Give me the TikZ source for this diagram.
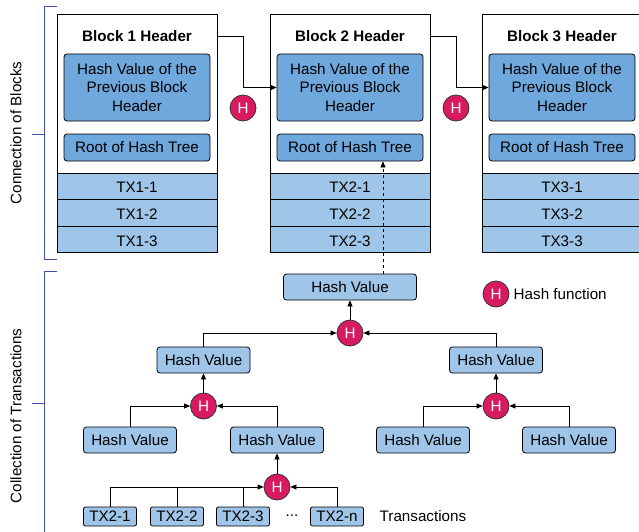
\documentclass[tikz,border=0pt]{standalone}
\usepackage{fontspec}
\setmainfont{Liberation Sans}
\usetikzlibrary{positioning,arrows.meta}
\definecolor{hdrblue}{HTML}{6FA8DC}
\definecolor{txblue}{HTML}{9FC5E8}
\definecolor{hashpink}{HTML}{D81B60}
\definecolor{brkblue}{HTML}{3F51B5}

\begin{document}
\begin{tikzpicture}[x=1pt, y=-1pt, font=\fontsize{15.2}{18.5}\selectfont, line width=0.8pt]
    % Estilos de bloques y nodos
    \tikzset{
        blockbox/.style={draw, rectangle, fill=white, minimum width=160pt, minimum height=159pt, outer sep=0pt},
        txrow/.style={draw, rectangle, fill=txblue, minimum width=160pt, minimum height=26.6pt, text height=13pt, text depth=0pt, inner sep=0pt, outer sep=0pt},
        innerbox/.style={draw, rectangle, rounded corners=3pt, fill=hdrblue, minimum width=146pt, align=center, inner sep=1pt},
        hashbox/.style={draw, rectangle, rounded corners=3pt, fill=txblue, minimum width=93pt, minimum height=26pt, inner sep=1pt},
        txbox/.style={draw, rectangle, rounded corners=2pt, fill=txblue, minimum width=53pt, minimum height=19pt, inner sep=1pt},
        hashfn/.style={draw=black!80, circle, fill=hashpink, text=white, minimum size=26pt, inner sep=0pt},
        arr/.style={-{Triangle[length=6pt, width=5pt]}},
        bracket/.style={draw=brkblue, line width=1pt}
    }
    \useasboundingbox (0,0) rectangle (639,532);

    % Bloque 1
    \node[blockbox] (blk1) at (137,93.5) {};
    \node (hdr1) at (137,36) {\textbf{Block 1 Header}};
    \node[innerbox, minimum height=67pt] (prev1) at (137,87.5) {Hash Value of the\\Previous Block\\Header};
    \node[innerbox, minimum height=27pt] (root1) at (137,147.5) {Root of Hash Tree};
    \node[txrow, below=0pt of blk1] (tx11) {TX1-1};
    \node[txrow, below=0pt of tx11] (tx12) {TX1-2};
    \node[txrow, below=0pt of tx12] (tx13) {TX1-3};

    % Bloque 2
    \node[blockbox] (blk2) at (350,93.5) {};
    \node (hdr2) at (350,36) {\textbf{Block 2 Header}};
    \node[innerbox, minimum height=67pt] (prev2) at (350,87.5) {Hash Value of the\\Previous Block\\Header};
    \node[innerbox, minimum height=27pt] (root2) at (350,147.5) {Root of Hash Tree};
    \node[txrow, below=0pt of blk2] (tx21) {TX2-1};
    \node[txrow, below=0pt of tx21] (tx22) {TX2-2};
    \node[txrow, below=0pt of tx22] (tx23) {TX2-3};

    % Bloque 3
    \node[blockbox] (blk3) at (562,93.5) {};
    \node (hdr3) at (562,36) {\textbf{Block 3 Header}};
    \node[innerbox, minimum height=67pt] (prev3) at (562,87.5) {Hash Value of the\\Previous Block\\Header};
    \node[innerbox, minimum height=27pt] (root3) at (562,147.5) {Root of Hash Tree};
    \node[txrow, below=0pt of blk3] (tx31) {TX3-1};
    \node[txrow, below=0pt of tx31] (tx32) {TX3-2};
    \node[txrow, below=0pt of tx32] (tx33) {TX3-3};

    % Funciones hash entre bloques
    \node[hashfn] (h12) at (243,108) {H};
    \node[hashfn] (h23) at (456,108) {H};

    % Arbol de hash
    \node[hashbox, minimum width=133pt] (top) at (350,287) {Hash Value};
    \node[hashfn] (hA) at (350,333) {H};
    \node[hashbox] (hvL) at (203.5,360) {Hash Value};
    \node[hashbox] (hvR) at (496,360) {Hash Value};
    \node[hashfn] (hB) at (203.5,406) {H};
    \node[hashfn] (hC) at (496,406) {H};
    \node[hashbox] (hvLL) at (130,440) {Hash Value};
    \node[hashbox] (hvLR) at (277,440) {Hash Value};
    \node[hashbox] (hvRL) at (423,440) {Hash Value};
    \node[hashbox] (hvRR) at (569,440) {Hash Value};
    \node[hashfn] (hD) at (277,487) {H};
    \node[txbox] (t1) at (110,516.5) {TX2-1};
    \node[txbox] (t2) at (177,516.5) {TX2-2};
    \node[txbox] (t3) at (243,516.5) {TX2-3};
    \node (dots) at (292,516) {...};
    \node[txbox] (tn) at (337,516.5) {TX2-n};
    \node[anchor=west] (txlabel) at (376,516) {Transactions};

    % Leyenda
    \node[hashfn] (hleg) at (496,294) {H};
    \node[anchor=west] (leglabel) at (510,294) {Hash function};

    % Conexiones entre bloques
    \draw[arr] (blk1.east |- hdr1) -| (h12 |- prev2.west) -- (prev2.west);
    \draw[arr] (blk2.east |- hdr2) -| (h23 |- prev3.west) -- (prev3.west);
    \draw[arr, dashed] ([xshift=33pt]top.north) -- ([xshift=33pt]root2.south);

    % Conexiones del arbol
    \draw[arr] (hA) -- (top);
    \draw[arr] (hvL.north) |- (hA.west);
    \draw[arr] (hvR.north) |- (hA.east);
    \draw[arr] (hB) -- (hvL);
    \draw[arr] (hvLL.north) |- (hB.west);
    \draw[arr] (hvLR.north) |- (hB.east);
    \draw[arr] (hC) -- (hvR);
    \draw[arr] (hvRL.north) |- (hC.west);
    \draw[arr] (hvRR.north) |- (hC.east);
    \draw[arr] (hD) -- (hvLR);
    \draw[arr] (t1.north) |- (hD.west);
    \draw (t2.north) -- (t2.north |- hD.west);
    \draw (t3.north) -- (t3.north |- hD.west);
    \draw[arr] (tn.north) |- (hD.east);

    % Llaves laterales
    \draw[bracket] (57,7) -| (44,259) -- (57,259);
    \draw[bracket] (44,134) -- (32,134);
    \node[rotate=90] (lblblocks) at (16,133) {Connection of Blocks};
    \draw[bracket] (57,271) -| (44,532);
    \draw[bracket] (44,403) -- (32,403);
    \node[rotate=90] (lbltx) at (16,416) {Collection of Transactions};
\end{tikzpicture}
\end{document}
